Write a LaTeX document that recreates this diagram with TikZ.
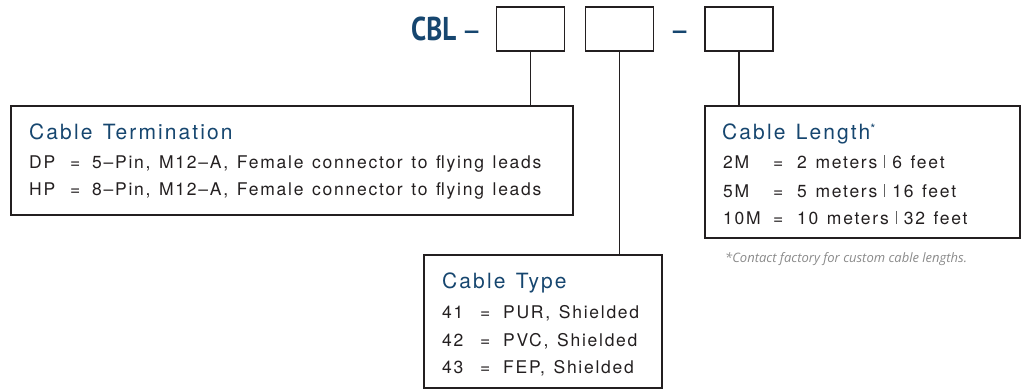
\documentclass[tikz,border=0pt]{standalone}
\usepackage{graphicx}
\usepackage{fontspec}
\setmainfont{TeX Gyre Heros}[LetterSpace=10,WordSpace=1.3]
\newfontfamily\partfont{PT Sans}
\newfontfamily\dashfont{TeX Gyre Heros}
\newfontfamily\notefont{Open Sans}
\usetikzlibrary{positioning}
\definecolor{specblue}{HTML}{16466F}
\definecolor{specink}{HTML}{231F20}
\definecolor{notegray}{HTML}{8A8A8A}
\newcommand\specrow[4]{\makebox[#1][l]{#2}\makebox[#3][l]{=}#4}
\newcommand\specbar{\hspace{7pt}{\color{notegray!70!black}\rule[0.5pt]{0.9pt}{13pt}}\hspace{7pt}}

\begin{document}
\begin{tikzpicture}[x=1pt,y=-1pt,
  codebox/.style={draw=specink,line width=1.5pt,minimum width=68pt,minimum height=44pt,inner sep=0pt},
  specbox/.style={draw=specink,line width=1.5pt,inner sep=0pt,anchor=north west},
  head/.style={anchor=base west,inner sep=0pt,text=specblue,font=\fontsize{21}{24}\selectfont},
  entry/.style={anchor=base west,inner sep=0pt,text=specink,font=\fontsize{17.5}{20}\selectfont},
  partno/.style={anchor=base west,inner sep=0pt,text=specblue,font=\partfont\bfseries\fontsize{33}{36}\selectfont},
  partdash/.style={anchor=base west,inner sep=0pt,text=specblue,font=\dashfont\bfseries\fontsize{24}{26}\selectfont}]
\useasboundingbox (0,0) rectangle (1021,391);

% part number
\node[partno] (prefix) at (411,40) {\scalebox{0.82}[1]{CBL}};
\node[partdash] (dashA) at (465,38) {–};
\node[partdash] (dashB) at (673,38) {–};
\node[codebox] (codeA) at (530.5,29) {};
\node[codebox] (codeB) at (619.5,29) {};
\node[codebox] (codeC) at (739,29) {};

% option boxes
\node[specbox,minimum width=562pt,minimum height=109pt] (term) at (10,105) {};
\node[specbox,minimum width=238pt,minimum height=133pt] (type) at (423,254) {};
\node[specbox,minimum width=315pt,minimum height=132pt] (len) at (704,105) {};

\draw[specink,line width=1.5pt] (codeA.south) -- (codeA.south |- term.north);
\draw[specink,line width=1.5pt] (codeB.south) -- (codeB.south |- type.north);
\draw[specink,line width=1.5pt] (codeC.south) -- (codeC.south |- len.north);

% termination
\node[head] (termT) at (29,139) {Cable Termination};
\node[entry] (termA) at (29,168) {\specrow{41pt}{DP}{22pt}{5–Pin, M12–A, Female connector to flying leads}};
\node[entry] (termB) at (29,195) {\specrow{41pt}{HP}{22pt}{8–Pin, M12–A, Female connector to flying leads}};

% type
\node[head] (typeT) at (442,288) {Cable Type};
\node[entry] (typeA) at (442,318) {\specrow{38pt}{41}{23pt}{PUR, Shielded}};
\node[entry] (typeB) at (442,346) {\specrow{38pt}{42}{23pt}{PVC, Shielded}};
\node[entry] (typeC) at (442,373) {\specrow{38pt}{43}{23pt}{FEP, Shielded}};

% length
\node[head] (lenT) at (722,139) {Cable Length\raisebox{6pt}{\fontsize{13}{13}\selectfont*}};
\node[entry] (lenA) at (723,168) {\specrow{50pt}{2M}{24pt}{2 meters\specbar 6 feet}};
\node[entry] (lenB) at (723,197) {\specrow{50pt}{5M}{24pt}{5 meters\specbar 16 feet}};
\node[entry] (lenC) at (723,224) {\specrow{50pt}{10M}{24pt}{10 meters\specbar 32 feet}};
\node[anchor=base west,inner sep=0pt,text=notegray,font=\notefont\itshape\fontsize{13}{14}\selectfont] (note) at (725,262) {*Contact factory for custom cable lengths.};
\end{tikzpicture}
\end{document}
